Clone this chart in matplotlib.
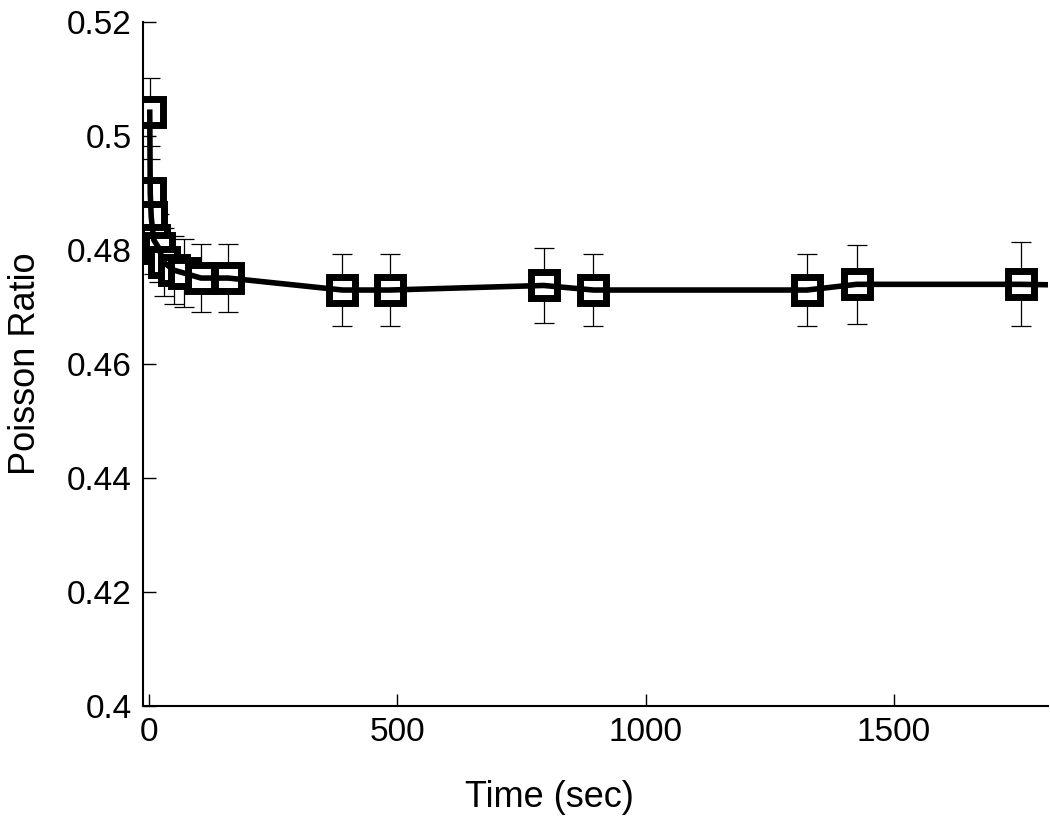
import numpy as np
import matplotlib
matplotlib.use("Agg")
import matplotlib.pyplot as plt
from matplotlib.ticker import FormatStrFormatter

# Data
time_sec = [2, 3, 5, 10, 20, 30, 50, 70, 105, 160, 390, 485, 795, 895, 1325, 1425, 1755, 1900]
poisson = [0.5042, 0.4900, 0.4858, 0.4818, 0.4804, 0.4779, 0.4765, 0.4760, 0.4751, 0.4751,
           0.4730, 0.4730, 0.4738, 0.4730, 0.4730, 0.4740, 0.4740, 0.4738]
poisson_err = [0.0060, 0.0060, 0.0060, 0.0060, 0.0060, 0.0060, 0.0060, 0.0060, 0.0060, 0.0060,
               0.0063, 0.0063, 0.0065, 0.0063, 0.0063, 0.0069, 0.0074, 0.0070]

plt.rcParams['font.family'] = ['Liberation Sans', 'DejaVu Sans']

fig = plt.figure(figsize=(10.5, 8.21), dpi=100)
ax = fig.add_axes([0.136, 0.140, 0.862, 0.833])

# thin error bars, open squares, then the thick line drawn over the squares
ax.errorbar(time_sec, poisson, yerr=poisson_err, fmt='none', ecolor='black',
            elinewidth=0.9, capsize=7, capthick=0.9, zorder=1)
ax.plot(time_sec, poisson, linestyle='none',
        marker='s', markersize=19, markerfacecolor='white',
        markeredgecolor='black', markeredgewidth=5, zorder=2)
ax.plot(time_sec, poisson, '-', color='black', linewidth=4, zorder=3)

ax.set_xlim(-12, 1810)
ax.set_ylim(0.4, 0.52)
ax.set_xticks([0, 500, 1000, 1500])
ax.set_yticks([0.4, 0.42, 0.44, 0.46, 0.48, 0.5, 0.52])
ax.yaxis.set_major_formatter(FormatStrFormatter('%g'))

ax.spines['top'].set_visible(False)
ax.spines['right'].set_visible(False)
ax.spines['left'].set_linewidth(1.5)
ax.spines['bottom'].set_linewidth(1.5)
ax.tick_params(direction='in', length=9, width=1, labelsize=24, pad=8)

ax.set_xlabel('Time (sec)', fontsize=26)
ax.xaxis.set_label_coords(0.449, -0.108)
ax.set_ylabel('Poisson Ratio', fontsize=26, labelpad=17)

fig.savefig('out.png', dpi=100)
